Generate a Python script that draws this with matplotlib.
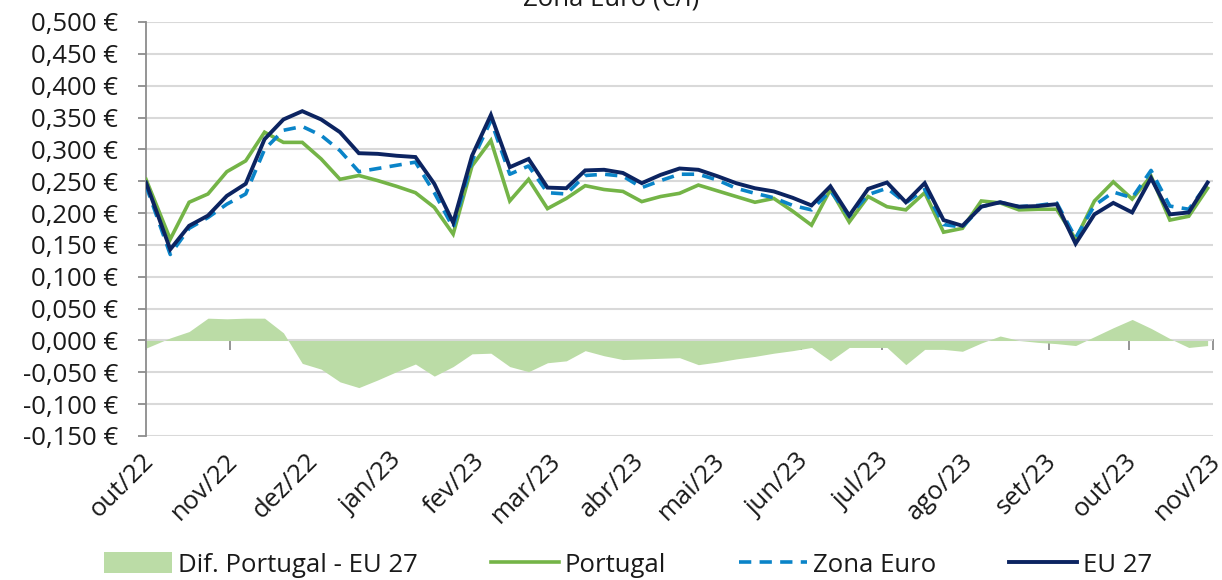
import matplotlib
matplotlib.use("Agg")
import matplotlib.pyplot as plt
from matplotlib.ticker import FuncFormatter, MultipleLocator
from matplotlib.transforms import ScaledTranslation
from matplotlib.lines import Line2D
from matplotlib.patches import Patch
import pandas as pd

plt.rcParams["font.family"] = ["Open Sans", "DejaVu Sans"]

# weekly observation dates
dates = pd.to_datetime(["2022-10-01"]).append(
    pd.date_range("2022-10-10", "2023-10-30", freq="7D"))

portugal = [0.253, 0.159, 0.217, 0.230, 0.265, 0.282, 0.327, 0.311, 0.311, 0.285,
            0.253, 0.259, 0.251, 0.242, 0.232, 0.209, 0.167, 0.274, 0.314, 0.219,
            0.253, 0.207, 0.223, 0.243, 0.237, 0.234, 0.218, 0.226, 0.231, 0.244,
            0.235, 0.226, 0.217, 0.223, 0.203, 0.181, 0.237, 0.186, 0.226, 0.210,
            0.205, 0.232, 0.170, 0.176, 0.219, 0.216, 0.205, 0.206, 0.206, 0.159,
            0.219, 0.249, 0.222, 0.258, 0.189, 0.195, 0.239]

zona_euro = [0.243, 0.135, 0.176, 0.193, 0.214, 0.230, 0.300, 0.330, 0.336, 0.322,
             0.298, 0.265, 0.270, 0.275, 0.280, 0.232, 0.177, 0.282, 0.345, 0.261,
             0.274, 0.232, 0.230, 0.259, 0.261, 0.258, 0.240, 0.251, 0.261, 0.261,
             0.252, 0.239, 0.231, 0.224, 0.212, 0.205, 0.235, 0.195, 0.229, 0.239,
             0.216, 0.237, 0.182, 0.178, 0.210, 0.217, 0.210, 0.212, 0.216, 0.161,
             0.212, 0.233, 0.224, 0.267, 0.211, 0.206, 0.246]

eu27 = [0.248, 0.143, 0.180, 0.196, 0.227, 0.246, 0.316, 0.347, 0.360, 0.347,
        0.327, 0.294, 0.293, 0.290, 0.288, 0.246, 0.185, 0.290, 0.354, 0.272,
        0.285, 0.240, 0.239, 0.267, 0.268, 0.263, 0.247, 0.260, 0.270, 0.268,
        0.258, 0.247, 0.239, 0.234, 0.224, 0.212, 0.242, 0.196, 0.238, 0.248,
        0.217, 0.247, 0.189, 0.180, 0.210, 0.217, 0.210, 0.211, 0.214, 0.152,
        0.198, 0.216, 0.201, 0.255, 0.198, 0.201, 0.248]

dif_pt_eu = [-0.012, 0.004, 0.014, 0.035, 0.034, 0.035, 0.035, 0.012, -0.036, -0.045,
             -0.065, -0.074, -0.062, -0.049, -0.037, -0.056, -0.041, -0.021, -0.020, -0.041,
             -0.049, -0.035, -0.032, -0.016, -0.024, -0.030, -0.029, -0.028, -0.027, -0.038,
             -0.034, -0.029, -0.025, -0.020, -0.016, -0.011, -0.032, -0.011, -0.011, -0.011,
             -0.038, -0.014, -0.014, -0.017, -0.004, 0.007, 0.000, -0.003, -0.005, -0.008,
             0.006, 0.020, 0.033, 0.019, 0.003, -0.011, -0.008]

month_ticks = pd.date_range("2022-10-01", "2023-11-01", freq="MS")
month_labels = ["out/22", "nov/22", "dez/22", "jan/23", "fev/23", "mar/23", "abr/23",
                "mai/23", "jun/23", "jul/23", "ago/23", "set/23", "out/23", "nov/23"]

C_AREA = "#bbdca6"
C_PT = "#74b447"
C_ZE = "#0a84c8"
C_EU = "#0c2461"
C_AXIS = "#8c8c8c"
C_GRID = "#d9d9d9"
C_TEXT = "#1a1a1a"
FS = 18.5

W, H = 1222, 580
fig = plt.figure(figsize=(W / 100, H / 100), dpi=100)
ax = fig.add_axes([146 / W, 1 - 436 / H, (1213 - 146) / W, (436 - 22) / H])

ax.fill_between(dates, 0, dif_pt_eu, color=C_AREA, lw=0, zorder=2)
ax.plot(dates, portugal, color=C_PT, lw=2.6, zorder=3, solid_joinstyle="miter")
ax.plot(dates, zona_euro, color=C_ZE, lw=2.6, ls=(0, (3.4, 2.3)), zorder=4)
ax.plot(dates, eu27, color=C_EU, lw=2.8, zorder=5, solid_joinstyle="miter")

ymin, ymax = -0.15, 0.5
ax.set_ylim(ymin, ymax)
ax.set_xlim(month_ticks[0], month_ticks[-1])


def euro(v, _):
    if abs(v) < 1e-9:
        v = 0.0
    return f"{v:.3f} €".replace(".", ",")


ax.yaxis.set_major_locator(MultipleLocator(0.05))
ax.yaxis.set_major_formatter(FuncFormatter(euro))
ax.grid(axis="y", color=C_GRID, lw=1.5, zorder=0)
ax.set_axisbelow(True)

for s in ("top", "right", "bottom"):
    ax.spines[s].set_visible(False)
ax.spines["left"].set_color(C_AXIS)
ax.spines["left"].set_linewidth(1.3)
ax.tick_params(axis="y", direction="out", length=6, width=1.3, color=C_AXIS,
               labelsize=FS, pad=14, labelcolor=C_TEXT)

# month labels below the plot area, nudged slightly left of each tick
ax.set_xticks(month_ticks)
ax.set_xticklabels(month_labels, rotation=45, ha="right", va="top",
                   rotation_mode="anchor", fontsize=FS, color=C_TEXT)
ax.tick_params(axis="x", length=0, pad=9)
nudge = ScaledTranslation(-5 / 100, 0, fig.dpi_scale_trans)
for lbl in ax.get_xticklabels():
    lbl.set_transform(lbl.get_transform() + nudge)

# category axis drawn along the zero line
zero_axis = ax.secondary_xaxis((0 - ymin) / (ymax - ymin))
zero_axis.set_xticks(month_ticks)
zero_axis.set_xticklabels([])
zero_axis.spines["bottom"].set_color(C_AXIS)
zero_axis.spines["bottom"].set_linewidth(1.3)
zero_axis.tick_params(axis="x", direction="out", length=7, width=1.3, color=C_AXIS)

fig.text(0.5, 1 - 6 / H, "Zona Euro (€/l)", ha="center", va="baseline",
         fontsize=FS, color=C_TEXT)

handles = [
    Patch(facecolor=C_AREA, edgecolor="none"),
    Line2D([], [], color=C_PT, lw=2.6),
    Line2D([], [], color=C_ZE, lw=2.6, ls=(0, (3.4, 2.3))),
    Line2D([], [], color=C_EU, lw=2.8),
]
labels = ["Dif. Portugal - EU 27", "Portugal", "Zona Euro", "EU 27"]
fig.legend(handles, labels, loc="center", bbox_to_anchor=(628 / W, 1 - 565 / H),
           ncol=4, frameon=False, fontsize=FS, handlelength=2.65,
           handletextpad=0.22, columnspacing=2.85, handleheight=0.85,
           labelcolor=C_TEXT)

fig.savefig("out.png", dpi=100)
